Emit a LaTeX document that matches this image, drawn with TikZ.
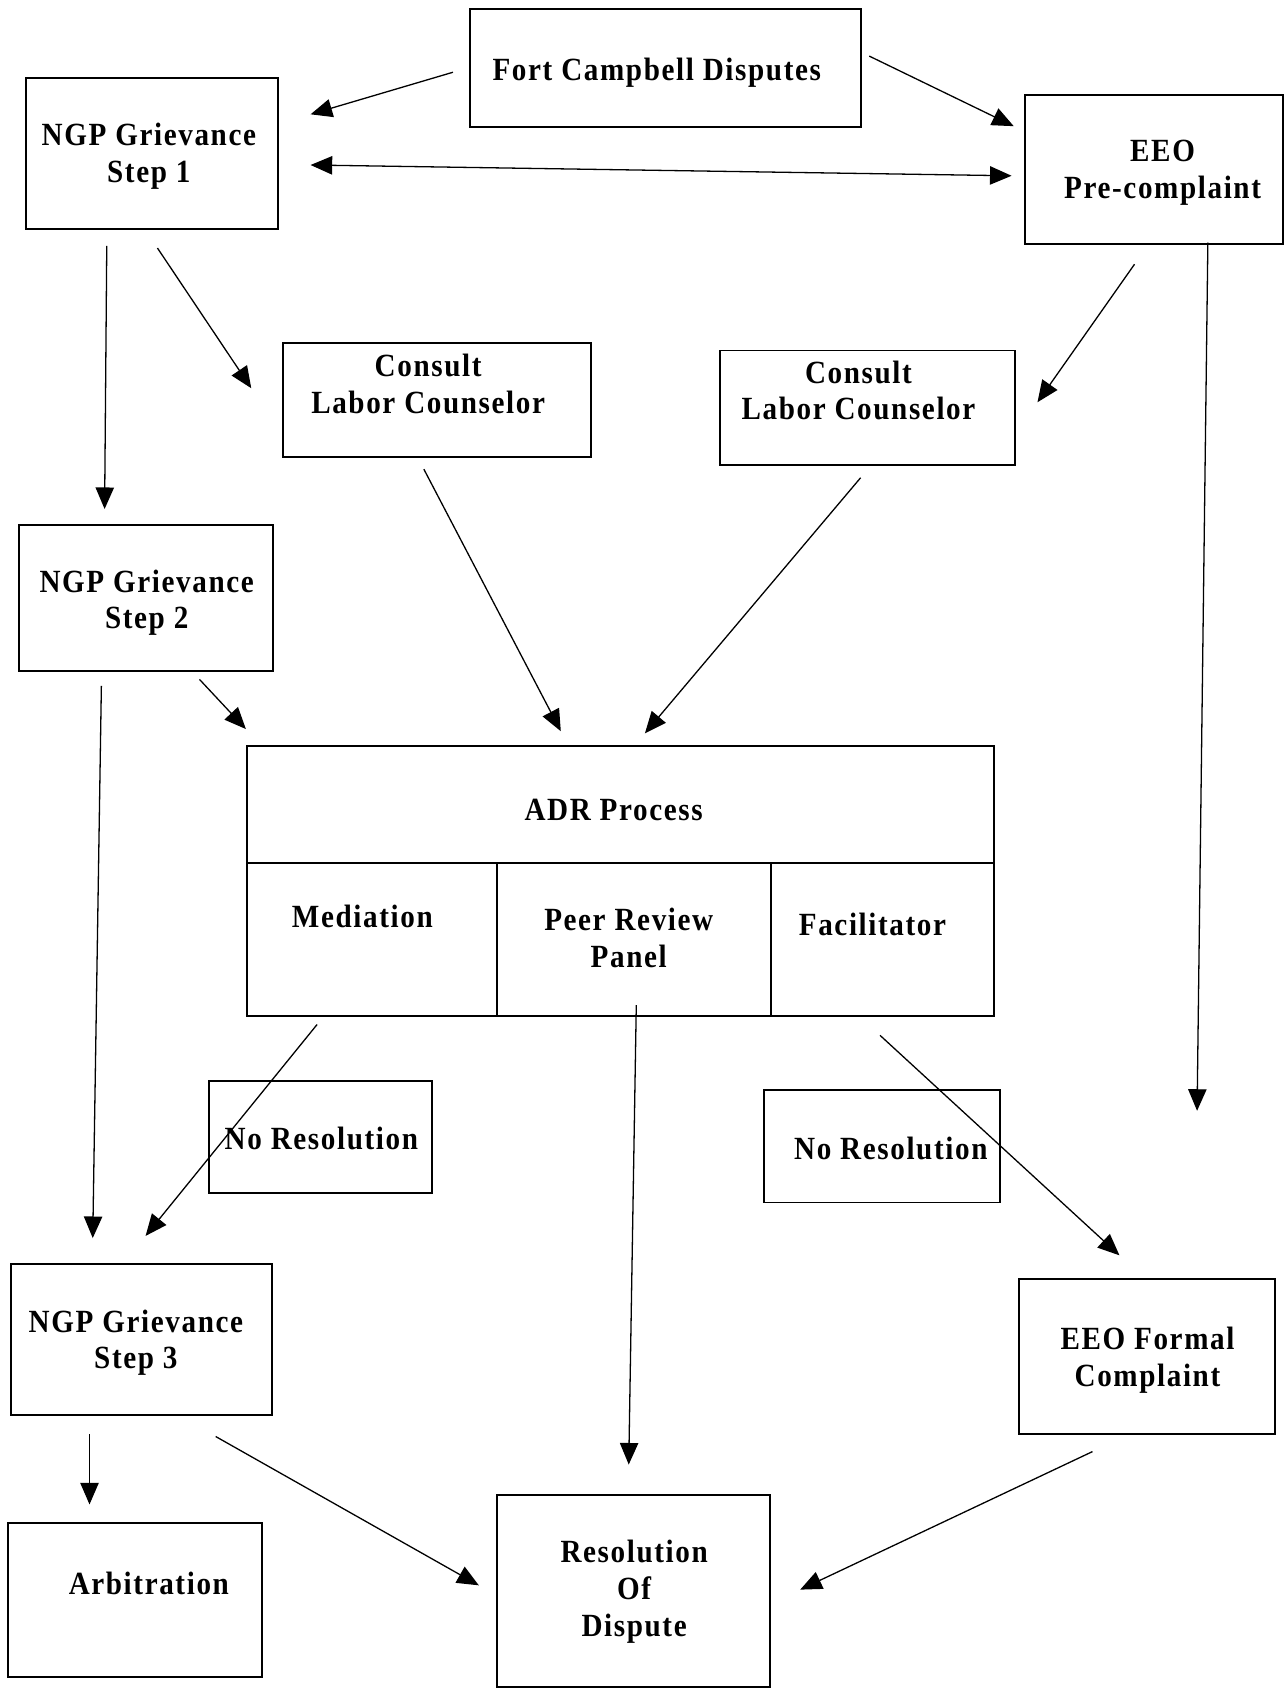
\documentclass[tikz,border=0pt]{standalone}
\usepackage{fontspec}
\setmainfont{Liberation Serif}[FakeStretch=0.9,LetterSpace=5]
\usetikzlibrary{arrows.meta,fit}
\begin{document}
\begin{tikzpicture}[x=0.5pt,y=-0.5pt,
  bx/.style={draw,line width=0.9pt,inner sep=0pt},
  txt/.style={font=\fontsize{15}{17}\selectfont\bfseries,align=center,inner sep=0pt},
  arr/.style={line width=0.6pt,-{Triangle[length=10pt,width=8.5pt]}},
  darr/.style={line width=0.6pt,{Triangle[length=10pt,width=8.5pt]}-{Triangle[length=10pt,width=8.5pt]}}]
\useasboundingbox (0,0) rectangle (1191,1568);
% boxes
\node[bx,fit={(436,8) (798,118)}] (fort) {};
\node[bx,fit={(24,72) (258,212)}] (s1) {};
\node[bx,fit={(950,88) (1190,226)}] (eeo) {};
\node[bx,fit={(262,318) (548,424)}] (cl1) {};
\node[bx,fit={(668,325) (941,431)}] (cl2) {};
\node[bx,fit={(18,487) (253,622)}] (s2) {};
\node[bx,fit={(229,692) (922,800)}] (adr) {};
\node[bx,fit={(229,800) (461,942)}] (med) {};
\node[bx,fit={(461,800) (715,942)}] (peer) {};
\node[bx,fit={(715,800) (922,942)}] (fac) {};
\node[bx,fit={(194,1002) (401,1106)}] (nr1) {};
\node[bx,fit={(708,1011) (927,1115)}] (nr2) {};
\node[bx,fit={(10,1172) (252,1312)}] (s3) {};
\node[bx,fit={(945,1186) (1182,1330)}] (eeof) {};
\node[bx,fit={(7,1412) (243,1555)}] (arb) {};
\node[bx,fit={(461,1386) (714,1564)}] (res) {};
% texts
\node[txt] (tfort) at (609,67) {Fort Campbell Disputes};
\node[txt] (ts1) at (138,145) {NGP Grievance\\Step 1};
\node[txt] (teeo) at (1078,160) {EEO\\Pre-complaint};
\node[txt] (tcl1) at (397,356) {Consult\\Labor Counselor};
\node[txt] (tcl2) at (796,362) {Consult\\Labor Counselor};
\node[txt] (ts2) at (136,559) {NGP Grievance\\Step 2};
\node[txt] (tadr) at (569,751) {ADR Process};
\node[txt] (tmed) at (336,850) {Mediation};
\node[txt] (tpeer) at (583,870) {Peer Review\\Panel};
\node[txt] (tfac) at (809,857) {Facilitator};
\node[txt] (tnr1) at (298,1056) {No Resolution};
\node[txt] (tnr2) at (826,1065) {No Resolution};
\node[txt] (ts3) at (126,1245) {NGP Grievance\\Step 3};
\node[txt] (teeof) at (1064,1261) {EEO Formal\\Complaint};
\node[txt] (tarb) at (138,1468) {Arbitration};
\node[txt] (tres) at (588,1476) {Resolution\\Of\\Dispute};
% connector end points
\coordinate (a1s) at (420,67);   \coordinate (a1e) at (288,106);
\coordinate (a2s) at (806,52);   \coordinate (a2e) at (940,117);
\coordinate (a3s) at (288,153);  \coordinate (a3e) at (938,163);
\coordinate (a4s) at (99,228);   \coordinate (a4e) at (97,472);
\coordinate (a5s) at (146,230);  \coordinate (a5e) at (233,360);
\coordinate (a6s) at (1052,245); \coordinate (a6e) at (962,373);
\coordinate (a7s) at (1120,225); \coordinate (a7e) at (1110,1030);
\coordinate (a8s) at (393,435);  \coordinate (a8e) at (520,678);
\coordinate (a9s) at (798,443);  \coordinate (a9e) at (598,680);
\coordinate (a10s) at (94,636);  \coordinate (a10e) at (86,1148);
\coordinate (a11s) at (185,630); \coordinate (a11e) at (228,676);
\coordinate (a12s) at (294,950); \coordinate (a12e) at (135,1146);
\coordinate (a13s) at (590,932); \coordinate (a13e) at (583,1358);
\coordinate (a14s) at (816,960); \coordinate (a14e) at (1038,1164);
\coordinate (a15s) at (83,1330); \coordinate (a15e) at (83,1395);
\coordinate (a16s) at (200,1332);\coordinate (a16e) at (444,1470);
\coordinate (a17s) at (1013,1346);\coordinate (a17e) at (742,1474);
% connectors
\draw[arr] (a1s) -- (a1e);
\draw[arr] (a2s) -- (a2e);
\draw[darr] (a3s) -- (a3e);
\draw[arr] (a4s) -- (a4e);
\draw[arr] (a5s) -- (a5e);
\draw[arr] (a6s) -- (a6e);
\draw[arr] (a7s) -- (a7e);
\draw[arr] (a8s) -- (a8e);
\draw[arr] (a9s) -- (a9e);
\draw[arr] (a10s) -- (a10e);
\draw[arr] (a11s) -- (a11e);
\draw[arr] (a12s) -- (a12e);
\draw[arr] (a13s) -- (a13e);
\draw[arr] (a14s) -- (a14e);
\draw[arr] (a15s) -- (a15e);
\draw[arr] (a16s) -- (a16e);
\draw[arr] (a17s) -- (a17e);
\end{tikzpicture}
\end{document}
